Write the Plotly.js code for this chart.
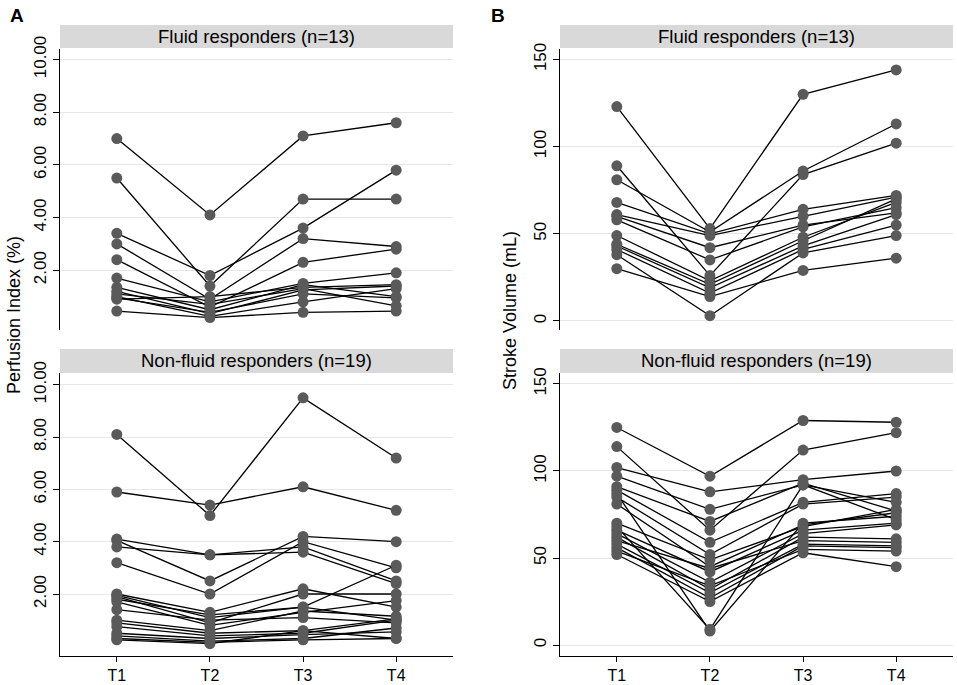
<html>
<head>
<script src="https://cdn.plot.ly/plotly-3.0.1.min.js"></script>
</head>
<body style="margin:0">
<div id="chart" style="width:957px;height:685px"></div>
<script>
// time points on the x axis
var times = ['T1', 'T2', 'T3', 'T4'];

// Perfusion index (%), one row per patient: T1, T2, T3, T4
var piFluid = [
  [7.0, 4.1, 7.1, 7.6], [5.5, 1.4, 4.7, 4.7], [3.4, 1.8, 3.6, 5.8],
  [3.0, 0.9, 3.2, 2.9], [2.4, 0.6, 2.3, 2.8], [1.7, 0.8, 1.5, 1.9],
  [1.35, 0.5, 1.45, 1.0], [1.2, 0.35, 1.25, 1.4], [1.1, 0.7, 1.3, 0.65],
  [1.0, 0.25, 0.8, 1.3], [0.95, 0.4, 1.1, 0.95], [0.9, 1.0, 1.35, 1.45],
  [0.45, 0.2, 0.4, 0.45]
];
var piNonFluid = [
  [8.1, 5.0, 9.5, 7.2], [5.9, 5.4, 6.1, 5.2], [4.1, 3.5, 3.6, 2.4],
  [4.05, 2.5, 4.2, 4.0], [3.8, 3.5, 3.8, 2.5], [3.2, 2.0, 4.0, 3.0],
  [2.0, 1.3, 2.2, 1.5], [1.95, 1.1, 1.5, 3.1], [1.9, 0.9, 2.0, 2.0],
  [1.8, 1.2, 1.5, 1.0], [1.7, 0.8, 1.3, 1.75], [1.4, 1.0, 1.1, 0.9],
  [1.0, 0.6, 1.35, 1.15], [0.9, 0.5, 0.6, 0.3], [0.75, 0.4, 0.5, 1.0],
  [0.5, 0.3, 0.45, 0.55], [0.4, 0.2, 0.3, 0.7], [0.3, 0.15, 0.25, 0.3],
  [0.25, 0.1, 0.6, 1.05]
];

// Stroke volume (mL), one row per patient: T1, T2, T3, T4
var svFluid = [
  [123, 53, 130, 144], [89, 26, 84, 102], [81, 51, 86, 113],
  [68, 50, 64, 72], [61, 49, 60, 71], [60, 42, 55, 62],
  [58, 35, 54, 65], [49, 23, 48, 68], [44, 21, 46, 70],
  [43, 19, 43, 61], [41, 16, 41, 55], [38, 3, 39, 49],
  [30, 14, 29, 36]
];
var svNonFluid = [
  [125, 97, 129, 128], [114, 66, 112, 122], [102, 88, 95, 100],
  [97, 78, 92, 82], [91, 71, 93, 77], [89, 59, 82, 87],
  [87, 8, 70, 74], [85, 52, 81, 85], [81, 45, 69, 76],
  [70, 49, 68, 78], [68, 9, 92, 72], [66, 42, 66, 70],
  [64, 36, 64, 69], [62, 32, 62, 61], [60, 44, 60, 59],
  [58, 30, 58, 57], [56, 27, 57, 56], [54, 34, 55, 54],
  [52, 25, 53, 45]
];

var stripTop = 'Fluid responders (n=13)';
var stripBottom = 'Non-fluid responders (n=19)';

var data = [];
function addPanel(rows, xa, ya) {
  rows.forEach(function(r) {
    data.push({
      x: times, y: r, xaxis: xa, yaxis: ya,
      type: 'scatter', mode: 'lines+markers',
      line: {color: '#000000', width: 1.3},
      marker: {color: '#5a5a5a', size: 11},
      hoverinfo: 'y', showlegend: false
    });
  });
}
addPanel(piFluid, 'x', 'y');
addPanel(piNonFluid, 'x2', 'y2');
addPanel(svFluid, 'x3', 'y3');
addPanel(svNonFluid, 'x4', 'y4');

var fam = 'Liberation Sans, Arial, sans-serif';
var colA = [60 / 957, 453 / 957];
var colB = [560 / 957, 953 / 957];
var rowTop = [1 - 330 / 685, 1 - 49 / 685];
var rowBot = [1 - 656 / 685, 1 - 373 / 685];

function xAxis(dom, anchor, shown) {
  return {
    domain: dom, anchor: anchor, type: 'category', categoryarray: times,
    range: [-0.61, 3.61], showgrid: false, zeroline: false,
    showline: shown, linecolor: '#000', linewidth: 1,
    ticks: shown ? 'outside' : '', ticklen: 5, tickcolor: '#000',
    showticklabels: shown, tickfont: {family: fam, size: 16, color: '#000'}
  };
}
function yAxis(dom, anchor, range, vals, fmt) {
  return {
    domain: dom, anchor: anchor, range: range,
    tickvals: vals, tickformat: fmt, tickangle: -90,
    showline: true, linecolor: '#000', linewidth: 1,
    ticks: 'outside', ticklen: 6, tickcolor: '#000',
    showgrid: true, gridcolor: '#e6e6e6', gridwidth: 1,
    zeroline: false, tickfont: {family: fam, size: 17, color: '#000'}
  };
}

var layout = {
  width: 957, height: 685,
  margin: {l: 0, r: 0, t: 0, b: 0},
  paper_bgcolor: '#fff', plot_bgcolor: '#fff',
  font: {family: fam, color: '#000'},
  xaxis: xAxis(colA, 'y', false),
  yaxis: yAxis(rowTop, 'x', [-0.27, 10.4], [2, 4, 6, 8, 10], '.2f'),
  xaxis2: xAxis(colA, 'y2', true),
  yaxis2: yAxis(rowBot, 'x2', [-0.37, 10.45], [2, 4, 6, 8, 10], '.2f'),
  xaxis3: xAxis(colB, 'y3', false),
  yaxis3: yAxis(rowTop, 'x3', [-5.2, 156], [0, 50, 100, 150], 'd'),
  xaxis4: xAxis(colB, 'y4', true),
  yaxis4: yAxis(rowBot, 'x4', [-6.3, 156.3], [0, 50, 100, 150], 'd'),
  shapes: [],
  annotations: [
    {text: '<b>A</b>', x: 8 / 957, y: 1 - 3 / 685, xref: 'paper', yref: 'paper',
     xanchor: 'left', yanchor: 'top', showarrow: false, font: {family: fam, size: 19}},
    {text: '<b>B</b>', x: 489 / 957, y: 1 - 3 / 685, xref: 'paper', yref: 'paper',
     xanchor: 'left', yanchor: 'top', showarrow: false, font: {family: fam, size: 19}},
    {text: 'Perfusion Index (%)', x: 14 / 957, y: 1 - 315 / 685, xref: 'paper', yref: 'paper',
     xanchor: 'center', yanchor: 'middle',
     textangle: -90, showarrow: false, font: {family: fam, size: 18}},
    {text: 'Stroke Volume (mL)', x: 510 / 957, y: 1 - 311 / 685, xref: 'paper', yref: 'paper',
     xanchor: 'center', yanchor: 'middle',
     textangle: -90, showarrow: false, font: {family: fam, size: 18}}
  ]
};

// grey strip headers above each panel
var strips = [
  [colA, 25, 48, stripTop], [colA, 349, 373, stripBottom],
  [colB, 25, 48, stripTop], [colB, 349, 373, stripBottom]
];
strips.forEach(function(s) {
  layout.shapes.push({
    type: 'rect', xref: 'paper', yref: 'paper',
    x0: s[0][0], x1: s[0][1], y0: 1 - s[2] / 685, y1: 1 - s[1] / 685,
    fillcolor: '#d9d9d9', line: {width: 0}, layer: 'below'
  });
  layout.annotations.push({
    text: s[3], xref: 'paper', yref: 'paper',
    x: (s[0][0] + s[0][1]) / 2, y: 1 - (s[1] + s[2]) / 2 / 685,
    xanchor: 'center', yanchor: 'middle',
    showarrow: false, font: {family: fam, size: 18.5}
  });
});

Plotly.newPlot('chart', data, layout, {displayModeBar: false, staticPlot: true});
</script>
</body>
</html>
